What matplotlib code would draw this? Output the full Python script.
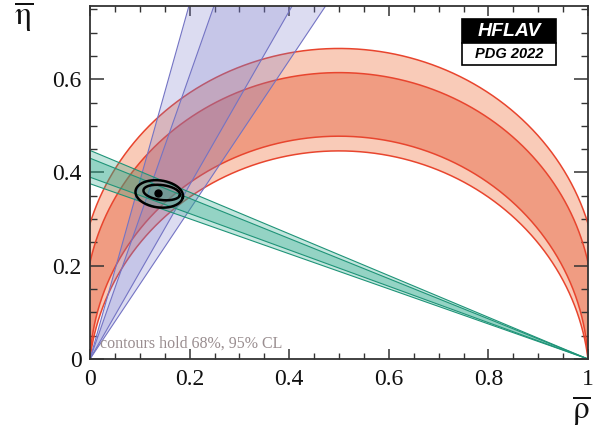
import numpy as np
import matplotlib
matplotlib.use("Agg")
import matplotlib.pyplot as plt
from matplotlib.patches import Rectangle

plt.rcParams['mathtext.fontset'] = 'stix'

# ---------------- data ----------------
# alpha constraint: circle arcs through (0,0) and (1,0), angles in degrees
alpha_95 = [73.8, 96.5]
alpha_68 = [78.3, 92.6]
# gamma constraint: rays from the origin, angles in degrees
gamma_95 = [58.0, 75.3]
gamma_68 = [61.8, 71.8]
# beta (sin 2beta) constraint: rays from (1,0), angles in degrees
beta_95 = [20.6, 24.1]
beta_68 = [21.3, 23.3]
# global fit: best point and 68% / 95% contours (approximate ellipses)
fit_rho = 0.137
fit_eta = 0.355
ell_rho = [0.144, 0.139]
ell_eta = [0.357, 0.354]
ell_a = [0.037, 0.048]
ell_b = [0.016, 0.029]
ell_angle = [-8.0, -8.0]

x_ticks = [0, 0.2, 0.4, 0.6, 0.8, 1]
x_ticklabels = ['0', '0.2', '0.4', '0.6', '0.8', '1']
y_ticks = [0, 0.2, 0.4, 0.6]
y_ticklabels = ['0', '0.2', '0.4', '0.6']

# ---------------- styles ----------------
red_light = '#f9cbb8'
red_dark = '#f09c82'
red_line = '#e8452e'
blue_fill = '#7878cc'
blue_line = '#7474c4'
teal_fill = '#2aa88a'
teal_line = '#1f9478'

W, H = 602, 429
fig = plt.figure(figsize=(W / 100, H / 100), dpi=100)
ax = fig.add_axes([90 / W, 1 - 359 / H, (588 - 90) / W, (359 - 6) / H])
ax.set_xlim(0, 1)
ax.set_ylim(0, 0.757)


def alpha_arc(a_deg, n=500):
    a = np.radians(a_deg)
    k = 0.5 / np.tan(a)
    r = 0.5 / np.sin(a)
    p0 = np.arctan2(-k, 0.5)
    phi = np.linspace(p0, np.pi - p0, n)
    return 0.5 + r * np.cos(phi), k + r * np.sin(phi)


def alpha_band(a1, a2, color):
    x1, y1 = alpha_arc(a1)
    x2, y2 = alpha_arc(a2)
    ax.fill(np.concatenate([x1, x2[::-1]]), np.concatenate([y1, y2[::-1]]),
            color=color, lw=0, zorder=1)


# alpha bands (light outer pieces, dark inner)
alpha_band(alpha_95[0], alpha_68[0], red_light)
alpha_band(alpha_68[1], alpha_95[1], red_light)
alpha_band(alpha_68[0], alpha_68[1], red_dark)
for a in alpha_95 + alpha_68:
    x, y = alpha_arc(a)
    ax.plot(x, y, color=red_line, lw=1.1, zorder=2)

L = 3.0


def ray_from_origin(g):
    g = np.radians(g)
    return [0, L * np.cos(g)], [0, L * np.sin(g)]


def ray_from_one(b):
    b = np.radians(b)
    return [1, 1 - L * np.cos(b)], [0, L * np.sin(b)]


# gamma bands
for band, al in [(gamma_95, 0.26), (gamma_68, 0.22)]:
    xa, ya = ray_from_origin(band[0])
    xb, yb = ray_from_origin(band[1])
    ax.fill([0, xa[1], xb[1]], [0, ya[1], yb[1]], color=blue_fill, alpha=al,
            lw=0, zorder=3)
for g in gamma_95 + gamma_68:
    xr, yr = ray_from_origin(g)
    ax.plot(xr, yr, color=blue_line, lw=0.8, zorder=4)

# beta bands
for band, al in [(beta_95, 0.28), (beta_68, 0.30)]:
    xa, ya = ray_from_one(band[0])
    xb, yb = ray_from_one(band[1])
    ax.fill([1, xa[1], xb[1]], [0, ya[1], yb[1]], color=teal_fill, alpha=al,
            lw=0, zorder=5)
for b in beta_95 + beta_68:
    xr, yr = ray_from_one(b)
    ax.plot(xr, yr, color=teal_line, lw=0.8, zorder=6)

# fit contours
t = np.linspace(0, 2 * np.pi, 300)
for cx, cy, a, b, th in zip(ell_rho, ell_eta, ell_a, ell_b, ell_angle):
    th = np.radians(th)
    ex = cx + a * np.cos(t) * np.cos(th) - b * np.sin(t) * np.sin(th)
    ey = cy + a * np.cos(t) * np.sin(th) + b * np.sin(t) * np.cos(th)
    ax.plot(ex, ey, color='black', lw=1.8, zorder=8)
ax.plot([fit_rho], [fit_eta], 'o', color='black', ms=5, zorder=9)

ax.text(0.02, 0.034, 'contours hold 68%, 95% CL', fontsize=11.5,
        family='Liberation Serif', color='#9a8e90', va='center', ha='left',
        zorder=10)

# axes styling (ROOT-like)
ax.set_xticks(x_ticks)
ax.set_xticklabels(x_ticklabels)
ax.set_yticks(y_ticks)
ax.set_yticklabels(y_ticklabels)
ax.set_xticks(np.arange(0, 1.001, 0.05), minor=True)
ax.set_yticks(np.arange(0, 0.757, 0.05), minor=True)
for s in ax.spines.values():
    s.set_linewidth(1.3)
    s.set_color('#333333')
    s.set_zorder(20)
ax.tick_params(axis='x', which='major', direction='in', length=7.5, width=1.1,
               top=True, bottom=True, color='#333333', pad=7)
ax.tick_params(axis='x', which='minor', direction='in', length=4, width=1.0,
               top=True, bottom=True, color='#333333')
ax.tick_params(axis='y', which='major', direction='in', length=10, width=1.1,
               left=True, right=True, color='#333333', pad=6)
ax.tick_params(axis='y', which='minor', direction='in', length=5, width=1.0,
               left=True, right=True, color='#333333')
for lab in ax.get_xticklabels() + ax.get_yticklabels():
    lab.set_family('Liberation Serif')
    lab.set_fontsize(17)
    lab.set_color('#111111')

fig.text(24 / W, 1 - 16 / H, r'$\overline{\mathrm{\eta}}$', fontsize=24,
         ha='center', va='center', color='#111111')
fig.text(581 / W, 1 - 410 / H, r'$\overline{\mathrm{\rho}}$', fontsize=24,
         ha='center', va='center', color='#111111')

# HFLAV logo
fig.patches.append(Rectangle((462 / W, 1 - 43 / H), 94 / W, 24 / H,
                             transform=fig.transFigure, facecolor='black',
                             edgecolor='black', lw=1.2, zorder=30))
fig.patches.append(Rectangle((462 / W, 1 - 65 / H), 94 / W, 22 / H,
                             transform=fig.transFigure, facecolor='white',
                             edgecolor='black', lw=1.2, zorder=30))
fig.text(509 / W, 1 - 31 / H, 'HFLAV', color='white', fontsize=14,
         family='Liberation Sans', weight='bold', style='italic',
         ha='center', va='center', zorder=31)
fig.text(509 / W, 1 - 54.5 / H, 'PDG 2022', color='black', fontsize=10.5,
         family='Liberation Sans', weight='bold', style='italic',
         ha='center', va='center', zorder=31)

fig.savefig('out.png', dpi=100)
